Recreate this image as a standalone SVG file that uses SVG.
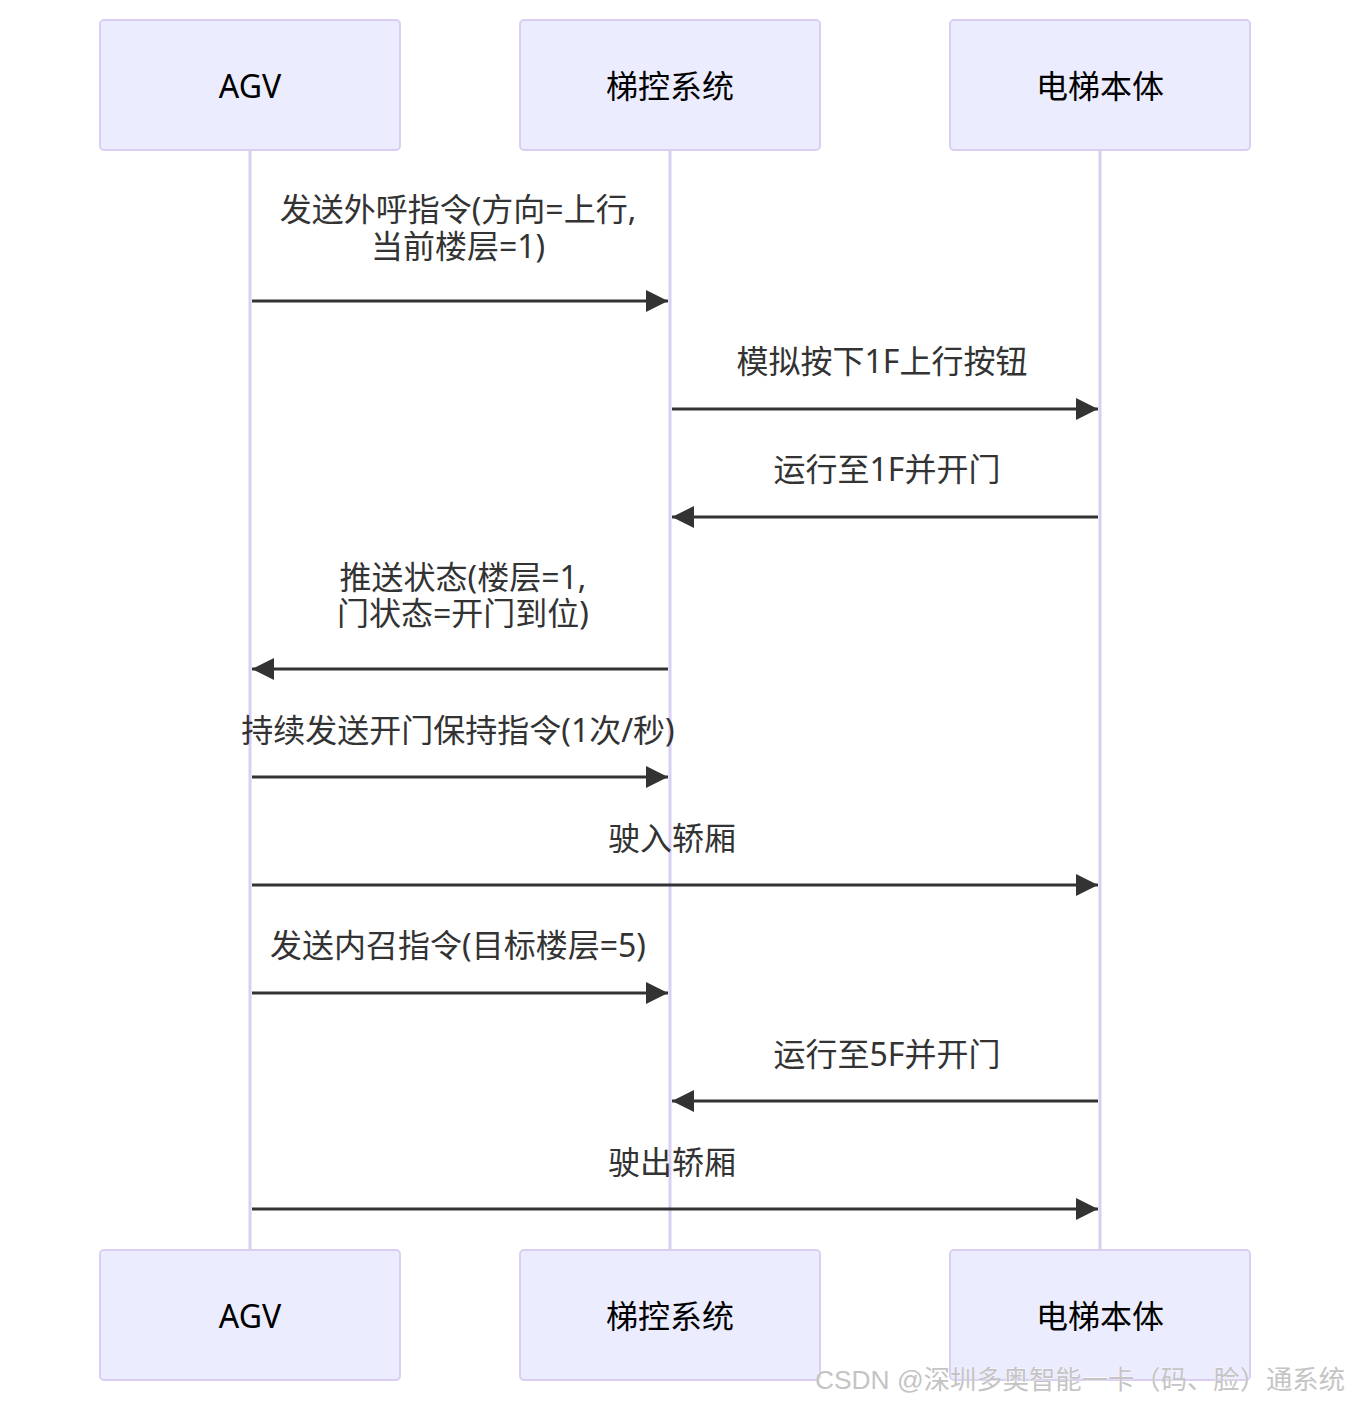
<svg xmlns="http://www.w3.org/2000/svg" width="1350" height="1402" viewBox="0 0 1350 1402">
<style>
.bg{fill:#ffffff}
.actor rect{fill:#ECECFF;stroke:#DACEF3;stroke-width:2}
.actor text{font-family:"Noto Sans","Noto Sans CJK SC",sans-serif;font-size:32px;fill:#000;text-anchor:middle;dominant-baseline:central}
.life{stroke:#DACEF3;stroke-width:3}
.msg{stroke:#333;stroke-width:3;fill:none}
.lbl{font-family:"Noto Sans","Noto Sans CJK SC",sans-serif;font-size:32px;fill:#333;text-anchor:middle;dominant-baseline:central}
.wm{font-family:"Liberation Sans","Noto Sans CJK SC",sans-serif;font-size:26px;fill:#c4c4c4;stroke:#ffffff;stroke-width:0.6;paint-order:stroke}
</style>
<defs>
<marker id="ah" markerUnits="userSpaceOnUse" markerWidth="22" markerHeight="22" viewBox="0 0 20 20" refX="20" refY="10" orient="auto">
<path d="M0,0 L20,10 L0,20 z" fill="#333"/>
</marker>
</defs>
<rect class="bg" x="0" y="0" width="1350" height="1402"/>
<g id="lifelines">
<line class="life" x1="250" y1="150" x2="250" y2="1250"/>
<line class="life" x1="670" y1="150" x2="670" y2="1250"/>
<line class="life" x1="1100" y1="150" x2="1100" y2="1250"/>
</g>
<g id="actor-agv-top" class="actor"><rect x="100" y="20" width="300" height="130" rx="4"/><text x="250" y="85">AGV</text></g>
<g id="actor-ctl-top" class="actor"><rect x="520" y="20" width="300" height="130" rx="4"/><text x="670" y="85">梯控系统</text></g>
<g id="actor-elev-top" class="actor"><rect x="950" y="20" width="300" height="130" rx="4"/><text x="1100" y="85">电梯本体</text></g>
<g id="actor-agv-bottom" class="actor"><rect x="100" y="1250" width="300" height="130" rx="4"/><text x="250" y="1315">AGV</text></g>
<g id="actor-ctl-bottom" class="actor"><rect x="520" y="1250" width="300" height="130" rx="4"/><text x="670" y="1315">梯控系统</text></g>
<g id="actor-elev-bottom" class="actor"><rect x="950" y="1250" width="300" height="130" rx="4"/><text x="1100" y="1315">电梯本体</text></g>
<g id="connectors">
<line class="msg" x1="252" y1="301" x2="668" y2="301" marker-end="url(#ah)"/>
<line class="msg" x1="672" y1="409" x2="1098" y2="409" marker-end="url(#ah)"/>
<line class="msg" x1="1098" y1="517" x2="672" y2="517" marker-end="url(#ah)"/>
<line class="msg" x1="668" y1="669" x2="252" y2="669" marker-end="url(#ah)"/>
<line class="msg" x1="252" y1="777" x2="668" y2="777" marker-end="url(#ah)"/>
<line class="msg" x1="252" y1="885" x2="1098" y2="885" marker-end="url(#ah)"/>
<line class="msg" x1="252" y1="993" x2="668" y2="993" marker-end="url(#ah)"/>
<line class="msg" x1="1098" y1="1101" x2="672" y2="1101" marker-end="url(#ah)"/>
<line class="msg" x1="252" y1="1209" x2="1098" y2="1209" marker-end="url(#ah)"/>
</g>
<g id="labels">
<text class="lbl"><tspan x="458" y="208">发送外呼指令(方向=上行,</tspan><tspan x="458" y="245">当前楼层=1)</tspan></text>
<text class="lbl" x="882" y="360">模拟按下1F上行按钮</text>
<text class="lbl" x="887" y="468">运行至1F并开门</text>
<text class="lbl"><tspan x="463" y="576">推送状态(楼层=1,</tspan><tspan x="463" y="612">门状态=开门到位)</tspan></text>
<text class="lbl" x="458" y="729">持续发送开门保持指令(1次/秒)</text>
<text class="lbl" x="672" y="837">驶入轿厢</text>
<text class="lbl" x="458" y="944">发送内召指令(目标楼层=5)</text>
<text class="lbl" x="887" y="1053">运行至5F并开门</text>
<text class="lbl" x="672" y="1161">驶出轿厢</text>
</g>
<text class="wm" x="815" y="1389" textLength="530" lengthAdjust="spacingAndGlyphs">CSDN @深圳多奥智能一卡（码、脸）通系统</text>
</svg>
